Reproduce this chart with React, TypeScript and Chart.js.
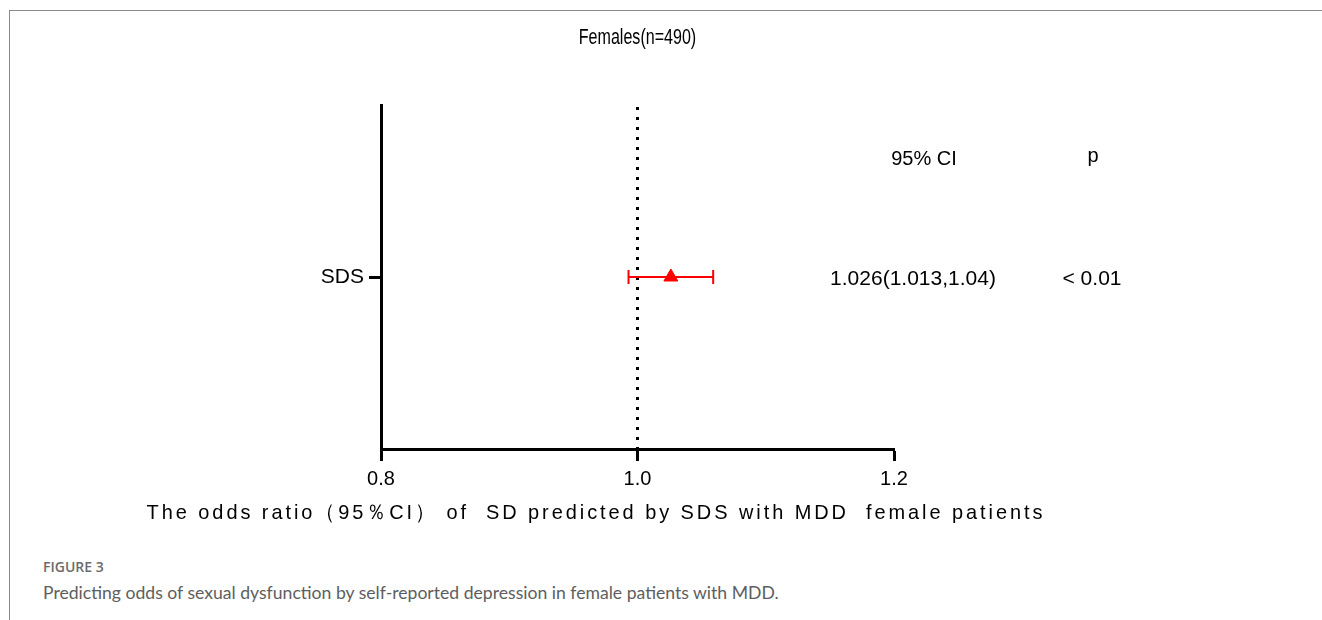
import React, { useEffect, useRef } from "react";
import { Chart, registerables } from "chart.js";

Chart.register(...registerables);

const categories = ["SDS"];
const oddsRatio = [1.026];
const ciLow = [0.993];
const ciHigh = [1.059];
const ciText = ["1.026(1.013,1.04)"];
const pText = ["< 0.01"];
const xTickValues = [0.8, 1.0, 1.2];
const referenceValue = 1.0;
const chartTitle = "Females(n=490)";
const axisTitle = "The odds ratio（95％CI） of  SD predicted by SDS with MDD  female patients";
const ciHeader = "95% CI";
const pHeader = "p";
const figureLabel = "FIGURE 3";
const figureCaption = "Predicting odds of sexual dysfunction by self-reported depression in female patients with MDD.";

const FONT = '"Liberation Sans", Arial, sans-serif';

function narrowText(ctx: any, text: string, x: number, y: number, sx: number) {
  ctx.save();
  ctx.translate(x, y);
  ctx.scale(sx, 1);
  ctx.fillText(text, 0, 0);
  ctx.restore();
}

const overlayPlugin = {
  id: "forestOverlay",
  beforeDatasetsDraw(chart: any) {
    const { ctx, chartArea } = chart;
    const xs = chart.scales.x;
    const ys = chart.scales.y;
    const rx = xs.getPixelForValue(referenceValue);
    ctx.save();
    ctx.strokeStyle = "#000";
    ctx.lineWidth = 3;
    ctx.setLineDash([3, 7]);
    ctx.beginPath();
    ctx.moveTo(rx, chartArea.top + 2);
    ctx.lineTo(rx, chartArea.bottom);
    ctx.stroke();
    ctx.restore();
    ctx.save();
    ctx.strokeStyle = "#ff0000";
    ctx.lineWidth = 2;
    categories.forEach((c, i) => {
      const y = ys.getPixelForValue(i);
      const x1 = xs.getPixelForValue(ciLow[i]);
      const x2 = xs.getPixelForValue(ciHigh[i]);
      ctx.beginPath();
      ctx.moveTo(x1, y);
      ctx.lineTo(x2, y);
      ctx.moveTo(x1, y - 7);
      ctx.lineTo(x1, y + 7);
      ctx.moveTo(x2, y - 7);
      ctx.lineTo(x2, y + 7);
      ctx.stroke();
    });
    ctx.restore();
  },
  afterDraw(chart: any) {
    const { ctx, chartArea } = chart;
    const ys = chart.scales.y;
    const cx = (chartArea.left + chartArea.right) / 2;
    ctx.save();
    ctx.fillStyle = "#000";
    ctx.textAlign = "center";
    ctx.textBaseline = "middle";
    ctx.font = `22px ${FONT}`;
    narrowText(ctx, chartTitle, cx, 38, 0.73);
    const rowY0 = ys.getPixelForValue(0);
    ctx.font = `20px ${FONT}`;
    narrowText(ctx, ciHeader, 924, rowY0 - 118, 1.0);
    narrowText(ctx, pHeader, 1093, rowY0 - 121, 1.0);
    ctx.font = `21px ${FONT}`;
    categories.forEach((c, i) => {
      const y = ys.getPixelForValue(i) + 2;
      narrowText(ctx, ciText[i], 913, y, 1.0);
      narrowText(ctx, pText[i], 1092, y, 1.0);
    });
    ctx.font = `21px ${FONT}`;
    (ctx as any).letterSpacing = "3.1px";
    narrowText(ctx, axisTitle, 596, 513, 0.95);
    ctx.restore();
  },
};

export default function App() {
  const ref = useRef<HTMLCanvasElement | null>(null);
  useEffect(() => {
    document.body.style.margin = "0";
    if (!ref.current) return;
    const chart = new Chart(ref.current, {
      type: "scatter",
      data: {
        datasets: [
          {
            label: "OR",
            data: categories.map((c, i) => ({ x: oddsRatio[i], y: c })) as any,
            pointStyle: "triangle",
            pointRadius: 8,
            pointBackgroundColor: "#ff0000",
            pointBorderColor: "#ff0000",
            pointBorderWidth: 1,
          },
        ],
      },
      options: {
        animation: false,
        responsive: false,
        maintainAspectRatio: false,
        layout: { padding: { top: 105, left: 321, right: 428, bottom: 0 } },
        plugins: { legend: { display: false }, tooltip: { enabled: false } },
        scales: {
          x: {
            type: "linear",
            min: 0.8,
            max: 1.2,
            afterFit: (s: any) => {
              s.height = 91;
            },
            afterBuildTicks: (s: any) => {
              s.ticks = xTickValues.map((v) => ({ value: v }));
            },
            border: { display: true, color: "#000", width: 3 },
            grid: {
              display: true,
              drawOnChartArea: false,
              drawTicks: true,
              tickLength: 12,
              tickWidth: 3,
              tickColor: "#000",
              color: "#000",
            },
            ticks: {
              color: "#000",
              font: { family: FONT, size: 20 },
              padding: 6,
              callback: (v: any) => Number(v).toFixed(1),
            },
          },
          y: {
            type: "category",
            labels: categories,
            offset: true,
            afterFit: (s: any) => {
              s.width = 60;
            },
            border: { display: true, color: "#000", width: 3 },
            grid: {
              display: true,
              offset: false,
              drawOnChartArea: false,
              drawTicks: true,
              tickLength: 12,
              tickWidth: 3,
              tickColor: "#000",
              color: "#000",
            },
            ticks: {
              color: "#000",
              font: { family: FONT, size: 21 },
              padding: 5,
            },
          },
        },
      },
      plugins: [overlayPlugin],
    });
    return () => chart.destroy();
  }, []);

  return (
    <div style={{ position: "relative", width: 1322, height: 620, background: "#fff", overflow: "hidden" }}>
      <div style={{ position: "absolute", left: 9, top: 10, right: 0, height: 1, background: "#8a8a8a" }} />
      <div style={{ position: "absolute", left: 9, top: 10, bottom: 0, width: 1, background: "#8a8a8a" }} />
      <canvas ref={ref} width={1322} height={540} style={{ position: "absolute", left: 0, top: 0, width: 1322, height: 540 }} />
      <div
        style={{
          position: "absolute",
          left: 43,
          top: 557,
          fontFamily: '"Open Sans", Lato, sans-serif',
          fontWeight: 600,
          fontSize: 14,
          color: "#6b6b6b",
        }}
      >
        {figureLabel}
      </div>
      <div
        style={{
          position: "absolute",
          left: 43,
          top: 582,
          fontFamily: 'Lato, "Open Sans", sans-serif',
          fontSize: 17.6,
          color: "#5e5e5e",
        }}
      >
        {figureCaption}
      </div>
    </div>
  );
}
